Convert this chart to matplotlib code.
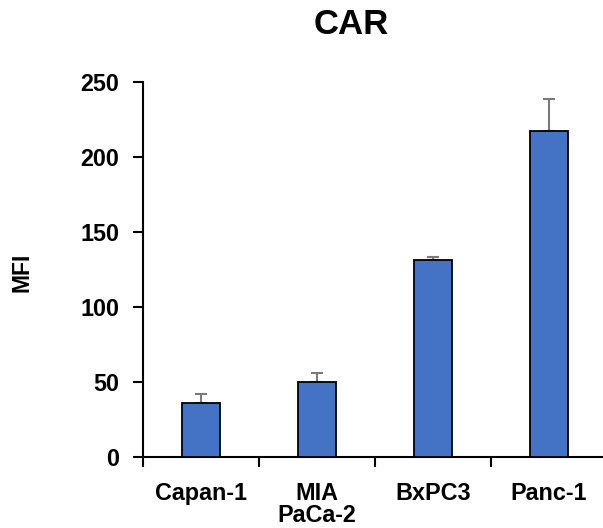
import matplotlib
matplotlib.use('Agg')
import matplotlib.pyplot as plt
import numpy as np

# datos
lineas = ['Capan-1', 'MIA\nPaCa-2', 'BxPC3', 'Panc-1']
mfi = [35.8, 50.2, 131.3, 217.3]
error = [6.2, 6.0, 2.2, 21.2]
y_ticks = [0, 50, 100, 150, 200, 250]

plt.rcParams['font.family'] = ['Liberation Sans', 'DejaVu Sans']
plt.rcParams['font.weight'] = 'bold'

W, H = 603, 528
fig = plt.figure(figsize=(W / 100, H / 100), dpi=100)
ax = fig.add_axes([143 / W, 71 / H, 464 / W, 375 / H])

x = np.arange(len(lineas))
ax.bar(x, mfi, width=0.32, color='#4472C4', edgecolor='black', linewidth=1.3, zorder=3)
# barra de error solo hacia arriba, por detrás de la barra
ax.errorbar(x, mfi, yerr=[np.zeros(len(error)), error], fmt='none',
            ecolor='#7a7a7a', elinewidth=1.5, capsize=4.3, capthick=1.5, zorder=2)

ax.set_xlim(-0.5, len(lineas) - 0.5)
ax.set_ylim(0, 250)
ax.set_yticks(y_ticks)
ax.set_yticklabels([str(v) for v in y_ticks], fontsize=16.8, fontweight='bold')

# ticks del eje x en los límites entre categorías, etiquetas en el centro
ax.set_xticks(np.arange(-0.5, len(lineas), 1.0))
ax.set_xticklabels([])
ax.set_xticks(x, minor=True)
ax.set_xticklabels(lineas, minor=True, fontsize=16.8, fontweight='bold', linespacing=0.95)
ax.tick_params(axis='x', which='minor', length=0, pad=18)
ax.tick_params(axis='x', which='major', length=7, width=1.5)
ax.tick_params(axis='y', length=7, width=1.5, pad=10)

ax.spines['top'].set_visible(False)
ax.spines['right'].set_visible(False)
for spine in ['bottom', 'left']:
    ax.spines[spine].set_linewidth(1.5)

fig.text(22 / W, 1 - 272 / H, 'MFI', rotation=90, ha='center', va='center',
         fontsize=16.5, fontweight='bold')
fig.text(351 / W, 1 - 25 / H, 'CAR', ha='center', va='center',
         fontsize=25, fontweight='bold')

fig.savefig('out.png', dpi=100)
